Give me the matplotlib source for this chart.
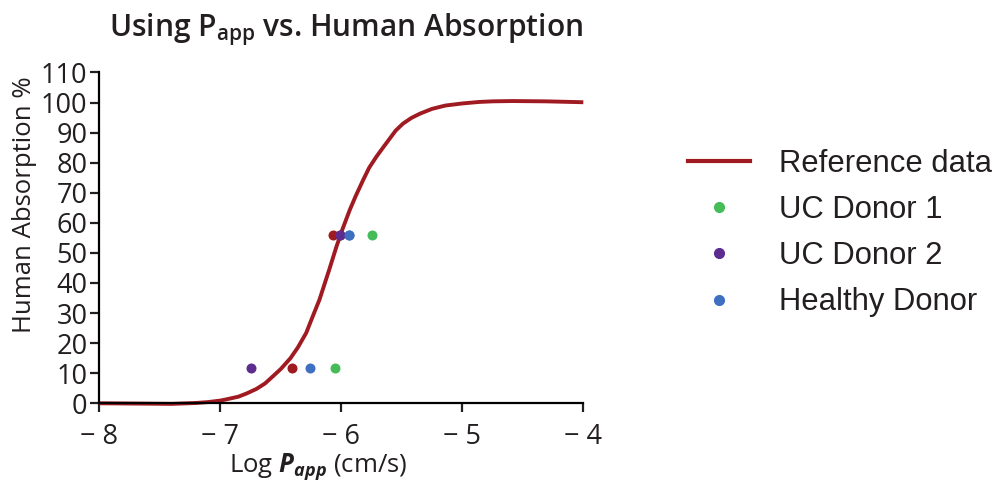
import matplotlib
matplotlib.use("Agg")
import matplotlib.pyplot as plt
from matplotlib.lines import Line2D

plt.rcParams['font.family'] = ['Open Sans', 'DejaVu Sans']
plt.rcParams['mathtext.fontset'] = 'custom'
plt.rcParams['mathtext.rm'] = 'Open Sans'
plt.rcParams['mathtext.it'] = 'Open Sans:italic'
plt.rcParams['mathtext.bf'] = 'Open Sans:bold'
plt.rcParams['mathtext.bfit'] = 'Open Sans:italic:bold'

# Reference curve
ref_x = [-8.0, -7.7, -7.4, -7.2, -7.1, -7.0, -6.95, -6.85, -6.78, -6.7, -6.63,
         -6.57, -6.50, -6.42, -6.36, -6.29, -6.24, -6.18, -6.10, -6.04, -5.99,
         -5.93, -5.88, -5.82, -5.77, -5.71, -5.65, -5.60, -5.55, -5.49, -5.42,
         -5.35, -5.25, -5.14, -5.0, -4.86, -4.75, -4.59, -4.31, -4.0]
ref_y = [0.0, -0.1, -0.2, 0.1, 0.4, 0.9, 1.3, 2.2, 3.3, 4.8, 6.6,
         8.8, 11.4, 15.0, 18.5, 23.4, 28.5, 34.5, 44.4, 52.1, 57.9,
         64.3, 69.0, 74.2, 78.3, 82.0, 85.3, 88.0, 90.7, 93.0, 94.9,
         96.3, 97.9, 99.0, 99.7, 100.2, 100.4, 100.5, 100.4, 100.1]

# Reference compounds
refpts_x = [-6.41, -6.07]
refpts_y = [11.6, 56.0]
# Donors
uc1_x = [-6.05, -5.75]
uc1_y = [11.6, 56.0]
uc2_x = [-6.75, -6.01]
uc2_y = [11.6, 56.0]
hd_x = [-6.26, -5.94]
hd_y = [11.6, 56.0]

c_red = '#A01A22'
c_green = '#45BC58'
c_purple = '#5C2D8E'
c_blue = '#3F6FC0'

fig = plt.figure(figsize=(10, 4.93), dpi=100)
ax = fig.add_axes([0.0993, 0.182, 0.484, 0.671])

ax.plot(ref_x, ref_y, color=c_red, lw=2.8, zorder=2, clip_on=False,
        solid_capstyle='butt', solid_joinstyle='round')
ms = 52
ax.scatter(uc2_x, uc2_y, s=ms, color=c_purple, zorder=3, linewidths=0)
ax.scatter(refpts_x, refpts_y, s=ms, color=c_red, zorder=3, linewidths=0)
ax.scatter(hd_x, hd_y, s=ms, color=c_blue, zorder=3, linewidths=0)
ax.scatter(uc1_x, uc1_y, s=ms, color=c_green, zorder=3, linewidths=0)
ax.scatter([uc2_x[1]], [uc2_y[1]], s=ms, color=c_purple, zorder=4, linewidths=0)
ax.scatter([hd_x[1]], [hd_y[1]], s=ms, color=c_blue, zorder=5, linewidths=0)

ax.set_xlim(-8, -4)
ax.set_ylim(0, 110)
xt = [-8, -7, -6, -5, -4]
ax.set_xticks(xt)
ax.set_xticklabels(['\u2212 %d' % abs(v) for v in xt])
ax.set_yticks(range(0, 111, 10))
for s in ['top', 'right']:
    ax.spines[s].set_visible(False)
for s in ['left', 'bottom']:
    ax.spines[s].set_linewidth(1.6)
ax.tick_params(direction='out', length=6.5, width=1.6, labelsize=19.5, pad=2,
               colors='#231F20')
ax.tick_params(axis='x', pad=8)

ax.set_ylabel('Human Absorption %', fontsize=18.5, color='#231F20')
ax.yaxis.set_label_coords(-0.128, 0.6)
ax.set_xlabel(r'Log $\mathbfit{P}_{\mathbfit{app}}$ (cm/s)', fontsize=18.5,
              color='#231F20', va='center')
ax.xaxis.set_label_coords(0.452, -0.19)
ax.set_title(r'Using P$_{\mathregular{app}}$ vs. Human Absorption', fontsize=21.5,
             fontweight='semibold', color='#231F20', pad=26, x=0.51)

handles = [Line2D([], [], color=c_red, lw=3),
           Line2D([], [], ls='none', marker='o', ms=7, color=c_green),
           Line2D([], [], ls='none', marker='o', ms=7, color=c_purple),
           Line2D([], [], ls='none', marker='o', ms=7, color=c_blue)]
labels = ['Reference data', 'UC Donor 1', 'UC Donor 2', 'Healthy Donor']
leg = fig.legend(handles, labels, loc='center left',
                 bbox_to_anchor=(0.660, 0.527), frameon=False,
                 prop={'family': 'Liberation Sans', 'size': 22.3},
                 handlelength=2.0, handletextpad=0.95, labelspacing=0.52)
for t in leg.get_texts():
    t.set_color('#231F20')

fig.savefig('out.png', dpi=100)
